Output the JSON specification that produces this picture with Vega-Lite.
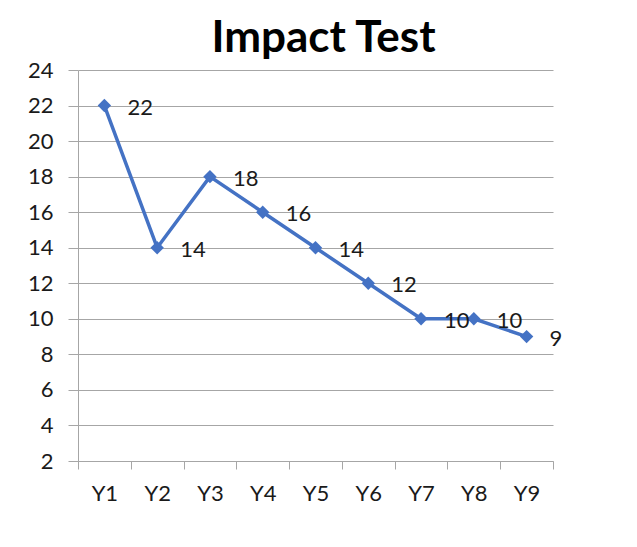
{
  "$schema": "https://vega.github.io/schema/vega-lite/v6.json",
  "autosize": "none",
  "width": 475,
  "height": 391,
  "padding": {"left": 78, "top": 70, "right": 84, "bottom": 86},
  "background": "white",
  "title": {
    "text": "Impact Test",
    "font": "Lato",
    "fontSize": 44,
    "fontWeight": "bold",
    "color": "#000000",
    "anchor": "middle",
    "dx": 8,
    "dy": 50,
    "offset": 4,
    "baseline": "bottom"
  },
  "data": {
    "values": [
      {"year": "Y1", "value": 22},
      {"year": "Y2", "value": 14},
      {"year": "Y3", "value": 18},
      {"year": "Y4", "value": 16},
      {"year": "Y5", "value": 14},
      {"year": "Y6", "value": 12},
      {"year": "Y7", "value": 10},
      {"year": "Y8", "value": 10},
      {"year": "Y9", "value": 9}
    ]
  },
  "encoding": {
    "x": {
      "field": "year",
      "type": "nominal",
      "sort": null,
      "scale": {"type": "band", "paddingInner": 0, "paddingOuter": 0},
      "axis": {
        "title": null,
        "labelAngle": 0,
        "labelFont": "Lato",
        "labelFontSize": 22,
        "labelColor": "#1a1a1a",
        "labelPadding": 14,
        "tickBand": "extent",
        "tickSize": 8,
        "tickColor": "#a6a6a6",
        "domainColor": "#a6a6a6",
        "grid": false
      }
    },
    "y": {
      "field": "value",
      "type": "quantitative",
      "scale": {"domain": [2, 24], "nice": false, "zero": false},
      "axis": {
        "title": null,
        "values": [2, 4, 6, 8, 10, 12, 14, 16, 18, 20, 22, 24],
        "labelFont": "Lato",
        "labelFontSize": 22,
        "labelColor": "#1a1a1a",
        "labelPadding": 15,
        "tickSize": 10,
        "tickColor": "#a6a6a6",
        "domainColor": "#a6a6a6",
        "gridColor": "#a6a6a6",
        "gridWidth": 1
      }
    }
  },
  "layer": [
    {
      "mark": {"type": "line", "color": "#4472C4", "strokeWidth": 3.5},
      "encoding": {}
    },
    {
      "mark": {"type": "point", "shape": "diamond", "filled": true, "color": "#4472C4", "size": 180, "opacity": 1},
      "encoding": {}
    },
    {
      "mark": {"type": "text", "align": "left", "baseline": "middle", "dx": 23, "dy": 2, "font": "Lato", "fontSize": 22, "color": "#1a1a1a"},
      "encoding": {"text": {"field": "value", "type": "quantitative"}}
    }
  ],
  "config": {"view": {"stroke": null}}
}
